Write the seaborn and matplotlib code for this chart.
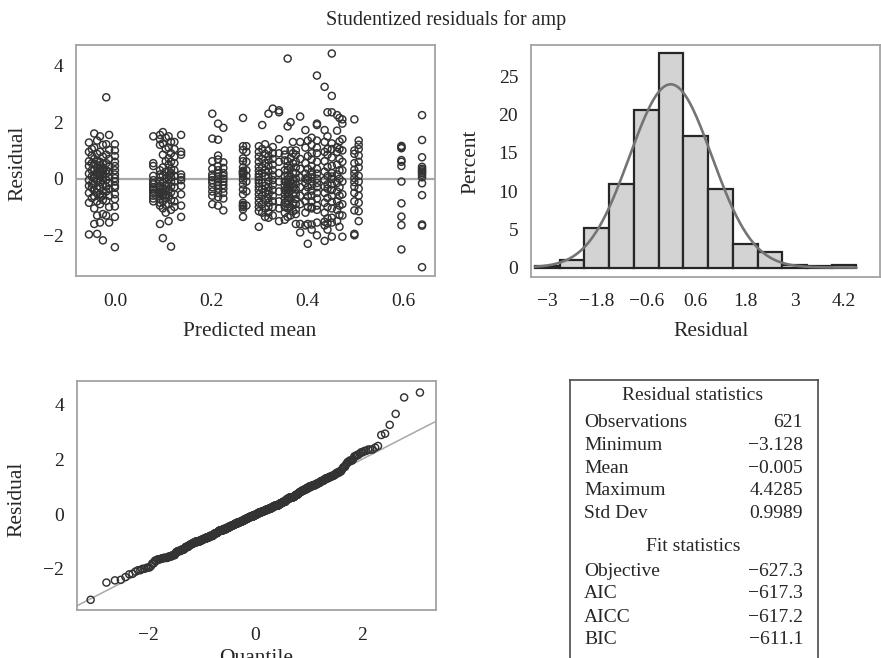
import numpy as np
import pandas as pd
import matplotlib
matplotlib.use("Agg")
import matplotlib.pyplot as plt
import seaborn as sns
from statistics import NormalDist

# ---------------------------------------------------------------------------
# Data
# ---------------------------------------------------------------------------
# Distinct predicted means (one column of points each) and the studentized
# residuals observed at each of them.
pred_means = [-0.056, -0.050, -0.045, -0.039, -0.033, -0.027, -0.020, -0.014, -0.002,
              0.078, 0.092, 0.098, 0.104, 0.110, 0.115, 0.122, 0.136,
              0.201, 0.213, 0.224,
              0.265, 0.272,
              0.298, 0.305, 0.311, 0.318, 0.327, 0.340,
              0.352, 0.358, 0.364, 0.369, 0.375, 0.384,
              0.395, 0.400, 0.408, 0.419,
              0.435, 0.441, 0.450, 0.461, 0.466, 0.472,
              0.497, 0.506,
              0.595, 0.638]

resid_cols = [
    [1.28, 0.95, 0.62, 0.45, 0.18, -0.05, -0.25, -0.50, -0.85, -1.97],
    [1.05, 0.82, 0.55, 0.30, 0.08, -0.18, -0.32, -0.68],
    [1.60, 1.10, 0.70, 0.52, 0.30, 0.15, 0.02, -0.20, -0.42, -0.62, -1.05, -1.60],
    [1.35, 0.88, 0.60, 0.40, 0.22, 0.12, -0.08, -0.35, -0.50, -0.80, -1.30, -1.95],
    [1.50, 0.95, 0.60, 0.48, 0.35, 0.30, 0.20, 0.10, 0.00, -0.12, -0.30, -0.55, -0.65, -0.90, -1.55],
    [1.20, 0.78, 0.52, 0.40, 0.33, 0.25, 0.15, 0.05, -0.05, -0.20, -0.42, -0.60, -0.75, -1.25, -2.18],
    [2.88, 1.22, 0.85, 0.55, 0.30, 0.18, -0.04, -0.28, -0.45, -0.78, -1.30],
    [1.55, 1.02, 0.70, 0.42, 0.25, 0.06, -0.15, -0.35, -0.60, -1.00, -1.55],
    [1.22, 1.00, 0.80, 0.60, 0.45, 0.30, 0.15, 0.02, -0.10, -0.25, -0.32, -0.55, -0.72, -0.98, -1.35, -2.42],
    [1.50, 0.55, 0.45, 0.10, -0.05, -0.15, -0.20, -0.30, -0.35, -0.42, -0.50, -0.60, -0.70, -0.80],
    [1.55, 1.40, 1.20, 0.30, 0.15, 0.05, -0.10, -0.25, -0.30, -0.38, -0.45, -0.50, -0.55, -0.62, -0.72, -0.85, -0.95, -1.60],
    [1.65, 1.25, 0.85, 0.40, 0.12, -0.12, -0.35, -0.45, -0.60, -0.80, -1.05, -2.10],
    [1.45, 1.05, 0.62, 0.25, 0.00, -0.25, -0.40, -0.55, -0.68, -0.92, -1.20],
    [1.50, 1.10, 0.72, 0.50, 0.28, 0.12, -0.02, -0.18, -0.38, -0.60, -0.90, -1.50],
    [1.30, 0.90, 0.60, 0.35, 0.20, 0.05, -0.10, -0.28, -0.48, -0.75, -1.10, -2.40],
    [1.30, 1.05, 0.78, 0.55, 0.30, 0.10, -0.10, -0.30, -0.55, -0.80, -1.00],
    [1.55, 0.95, 0.85, 0.15, 0.05, -0.05, -0.25, -0.55, -0.95, -1.35],
    [2.30, 1.42, 0.62, 0.35, 0.15, 0.05, -0.05, -0.15, -0.30, -0.45, -0.60, -0.90],
    [1.95, 1.38, 0.82, 0.68, 0.45, 0.30, 0.18, 0.08, -0.02, -0.12, -0.22, -0.35, -0.50, -0.65, -0.95],
    [1.80, 0.58, 0.38, 0.20, 0.10, 0.00, -0.10, -0.22, -0.35, -0.50, -0.70, -1.12],
    [2.15, 1.15, 1.02, 0.72, 0.62, 0.40, 0.28, 0.25, 0.22, 0.18, 0.15, 0.08, -0.05, -0.20, -0.38, -0.55, -0.85, -0.92, -0.95, -1.00, -1.08, -1.35],
    [1.15, 0.95, 0.60, 0.30, 0.10, -0.10, -0.45, -0.95],
    [1.15, 0.95, 0.78, 0.60, 0.42, 0.28, 0.15, 0.05, -0.05, -0.15, -0.28, -0.40, -0.55, -0.70, -0.85, -1.00, -1.15, -1.70],
    [1.90, 1.05, 0.70, 0.40, 0.20, -0.15, -0.35, -0.60, -0.90, -1.20],
    [1.22, 0.88, 0.55, 0.30, 0.10, -0.25, -0.48, -0.75, -1.05, -1.35],
    [2.30, 1.00, 0.80, 0.65, 0.45, 0.25, 0.05, -0.10, -0.30, -0.42, -0.55, -0.70, -0.85, -1.00, -1.20, -1.38],
    [2.48, 1.12, 0.90, 0.70, 0.50, 0.30, 0.12, -0.05, -0.22, -0.40, -0.60, -0.80, -1.00, -1.30],
    [2.42, 2.35, 1.40, 0.90, 0.60, 0.20, -0.10, -0.45, -0.80, -1.05, -1.50],
    [1.00, 0.85, 0.65, 0.30, 0.10, -0.10, -0.25, -0.40, -0.55, -0.70, -0.85, -1.00, -1.20, -1.45],
    [4.25, 1.85, 0.62, 0.45, 0.30, 0.12, -0.02, -0.15, -0.20, -0.28, -0.35, -0.40, -0.52, -0.65, -0.78, -0.90, -1.05, -1.35],
    [2.00, 1.00, 0.72, 0.38, 0.08, -0.10, -0.25, -0.42, -0.70, -1.00, -1.30],
    [1.30, 0.90, 0.55, 0.22, -0.05, -0.18, -0.30, -0.55, -0.85, -1.15],
    [1.00, 0.85, 0.60, 0.40, 0.20, 0.00, -0.20, -0.38, -0.55, -0.72, -0.90, -1.10, -1.25, -1.60],
    [2.20, 1.30, 0.70, 0.35, 0.05, -0.30, -0.60, -0.90, -1.60, -1.90],
    [1.72, 1.10, 0.55, 0.18, 0.00, -0.15, -0.45, -0.80, -1.20, -1.65],
    [1.35, 0.80, 0.35, 0.05, -0.05, -0.30, -0.62, -1.00, -1.60, -2.30],
    [1.45, 1.20, 0.90, 0.68, 0.45, 0.25, 0.15, 0.05, -0.10, -0.25, -0.42, -0.60, -0.80, -1.00, -1.05, -1.62, -1.80],
    [3.65, 1.95, 1.90, 1.35, 1.10, 0.90, 0.60, 0.35, 0.18, 0.00, -0.15, -0.30, -0.50, -0.70, -0.95, -1.10, -1.55, -2.00],
    [3.25, 1.72, 1.30, 0.95, 0.62, 0.25, -0.05, -0.28, -0.50, -0.85, -1.20, -1.52, -1.65, -2.20],
    [2.35, 1.50, 1.05, 0.85, 0.42, 0.10, -0.20, -0.35, -0.68, -1.00, -1.40, -1.58, -1.80],
    [4.4285, 2.93, 2.35, 1.25, 1.05, 0.75, 0.45, 0.20, 0.08, 0.00, -0.20, -0.40, -0.60, -0.82, -1.05, -1.38, -1.55, -2.05],
    [2.25, 1.70, 1.12, 0.95, 0.50, 0.15, -0.15, -0.45, -0.80, -1.10, -1.50],
    [2.15, 1.32, 1.05, 0.70, 0.30, 0.00, -0.30, -0.60, -0.95, -1.28, -1.70],
    [2.10, 1.95, 1.40, 1.00, 0.60, 0.30, -0.10, -0.55, -0.90, -1.30, -2.05],
    [2.10, 1.00, 0.88, 0.55, 0.32, 0.18, 0.02, -0.12, -0.28, -0.50, -0.80, -1.12, -1.95, -2.00],
    [1.35, 1.20, 1.05, 0.82, 0.60, 0.40, 0.10, -0.10, -0.35, -0.60, -0.85, -1.15, -1.50],
    [1.16, 1.12, 1.08, 0.66, 0.60, 0.45, -0.10, -0.87, -1.34, -1.64, -2.50],
    [2.25, 1.37, 0.76, 0.42, 0.35, 0.30, 0.25, 0.20, 0.14, 0.05, -0.16, -0.58, -1.62, -1.66, -3.128],
]

# Histogram of residuals: bin edges (width 0.6) and percent of observations
hist_edges = [-3.3, -2.7, -2.1, -1.5, -0.9, -0.3, 0.3, 0.9, 1.5, 2.1, 2.7, 3.3, 3.9, 4.5]
hist_percent = [0.16, 0.97, 5.15, 10.95, 20.61, 28.02, 17.23, 10.31, 3.06, 2.09, 0.32, 0.16, 0.32]
hist_ticks = [-3, -1.8, -0.6, 0.6, 1.8, 3, 4.2]
hist_tick_labels = ["\u22123", "\u22121.8", "\u22120.6", "0.6", "1.8", "3", "4.2"]

# Summary tables
resid_stat_names = ["Observations", "Minimum", "Mean", "Maximum", "Std Dev"]
resid_stat_values = ["621", "\u22123.128", "\u22120.005", "4.4285", "0.9989"]
fit_stat_names = ["Objective", "AIC", "AICC", "BIC"]
fit_stat_values = ["\u2212627.3", "\u2212617.3", "\u2212617.2", "\u2212611.1"]
resid_mean = -0.005
resid_sd = 0.9989

# ---------------------------------------------------------------------------
# Figure
# ---------------------------------------------------------------------------
sns.set_theme(style="white")
plt.rcParams["font.family"] = ["Liberation Serif", "DejaVu Serif"]
plt.rcParams["axes.unicode_minus"] = True

W, H = 881, 658
fig = plt.figure(figsize=(W / 100, H / 100), dpi=100)


def box(left, top, right, bottom):
    """Axes rectangle from pixel edges."""
    return [left / W, 1 - bottom / H, (right - left) / W, (bottom - top) / H]


def ftext(x, y, s, **kw):
    fig.text(x / W, 1 - y / H, s, **kw)


SPINE = "#a3a3a3"
EDGE = "#333333"
TICK_FS = 14
LABEL_FS = 15.5


def style_axes(ax):
    for sp in ax.spines.values():
        sp.set_color(SPINE)
        sp.set_linewidth(1.3)
    ax.tick_params(axis="both", direction="out", length=6, width=1.1,
                   color=SPINE, labelsize=TICK_FS, labelcolor="#222222")
    ax.tick_params(axis="x", pad=6)
    ax.tick_params(axis="y", pad=3)
    ax.set_xlabel("")
    ax.set_ylabel("")


df = pd.DataFrame({"pred": pred_means, "resid": resid_cols}).explode("resid")
df["resid"] = df["resid"].astype(float)
df["pred"] = df["pred"].astype(float)

# --- Residual vs predicted mean ---------------------------------------------
ax1 = fig.add_axes(box(76, 45, 435, 276))
ax1.axhline(0, color="#a8a8a8", lw=1.6, zorder=1)
sns.scatterplot(data=df, x="pred", y="resid", ax=ax1, marker="o", s=26,
                facecolors="none", edgecolor=EDGE, linewidth=1.05, zorder=3)
ax1.set_xlim(-0.083, 0.665)
ax1.set_ylim(-3.44, 4.73)
ax1.set_xticks([0.0, 0.2, 0.4, 0.6])
ax1.set_xticklabels(["0.0", "0.2", "0.4", "0.6"])
ax1.set_yticks([-2, 0, 2, 4])
style_axes(ax1)

# --- Histogram with normal density ------------------------------------------
ax2 = fig.add_axes(box(530.7, 45, 880, 276.7))
centers = [(a + b) / 2 for a, b in zip(hist_edges[:-1], hist_edges[1:])]
sns.histplot(x=centers, weights=hist_percent, bins=hist_edges, ax=ax2,
             color="#d3d3d3", edgecolor="#262626", linewidth=1.6, alpha=1.0)
bw = hist_edges[1] - hist_edges[0]
grid = np.linspace(-3.3, 4.5, 400)
nd = NormalDist(resid_mean, resid_sd)
dens = [100 * bw * nd.pdf(v) for v in grid]
sns.lineplot(x=grid, y=dens, ax=ax2, color="#747474", lw=1.9)
ax2.set_xlim(-3.40, 5.07)
ax2.set_ylim(-1.2, 29.1)
ax2.set_xticks(hist_ticks)
ax2.set_xticklabels(hist_tick_labels)
ax2.set_yticks([0, 5, 10, 15, 20, 25])
style_axes(ax2)

# --- Normal Q-Q plot ---------------------------------------------------------
resid_sorted = np.sort(df["resid"].to_numpy())
n = len(resid_sorted)
std_norm = NormalDist()
quantiles = [std_norm.inv_cdf((i + 1 - 0.375) / (n + 0.25)) for i in range(n)]
ax3 = fig.add_axes(box(76.7, 380.7, 436, 610))
ax3.axline((0, resid_mean), slope=resid_sd, color="#a8a8a8", lw=1.1, zorder=1)
sns.scatterplot(x=quantiles, y=resid_sorted, ax=ax3, marker="o", s=26,
                facecolors="none", edgecolor=EDGE, linewidth=1.05, zorder=3)
ax3.set_xlim(-3.35, 3.39)
ax3.set_ylim(-3.5, 4.86)
ax3.set_xticks([-2, 0, 2])
ax3.set_yticks([-2, 0, 2, 4])
style_axes(ax3)

# --- Statistics panel ---------------------------------------------------------
ax4 = fig.add_axes(box(570, 380, 818.3, 700))
ax4.set_xticks([])
ax4.set_yticks([])
for sp in ax4.spines.values():
    sp.set_color("#4a4a4a")
    sp.set_linewidth(1.2)

TABLE_FS = 14
ftext(693, 395, "Residual statistics", ha="center", va="center", fontsize=TABLE_FS)
for i, (name, val) in enumerate(zip(resid_stat_names, resid_stat_values)):
    y = 422.7 + i * 22.75
    ftext(584, y, name, ha="left", va="center", fontsize=TABLE_FS)
    ftext(803, y, val, ha="right", va="center", fontsize=TABLE_FS)
ftext(693, 546.7, "Fit statistics", ha="center", va="center", fontsize=TABLE_FS)
for i, (name, val) in enumerate(zip(fit_stat_names, fit_stat_values)):
    y = 571 + i * 23
    ftext(584, y, name, ha="left", va="center", fontsize=TABLE_FS)
    ftext(803, y, val, ha="right", va="center", fontsize=TABLE_FS)

# --- Titles and axis labels ---------------------------------------------------
ftext(446, 20, "Studentized residuals for amp", ha="center", va="center", fontsize=14.5)
ftext(18, 163, "Residual", rotation=90, ha="center", va="center", fontsize=LABEL_FS)
ftext(250, 332, "Predicted mean", ha="center", va="center", fontsize=LABEL_FS)
ftext(471, 162, "Percent", rotation=90, ha="center", va="center", fontsize=LABEL_FS)
ftext(711, 332, "Residual", ha="center", va="center", fontsize=LABEL_FS)
ftext(17, 499, "Residual", rotation=90, ha="center", va="center", fontsize=LABEL_FS)
# the Q-Q x label sits right at the lower edge of the canvas
ftext(256, 663, "Quantile", ha="center", va="baseline", fontsize=LABEL_FS)

fig.savefig("out.png", dpi=100)
